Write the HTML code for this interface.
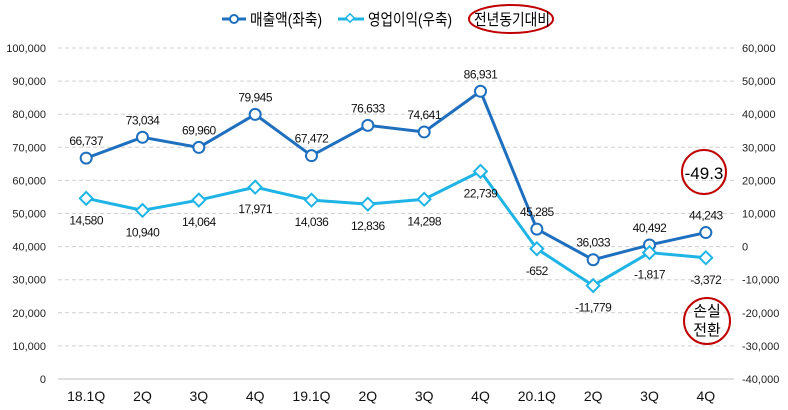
<!DOCTYPE html>
<html><head><meta charset="utf-8"><style>
body{margin:0;background:#fff;}
svg{display:block;font-family:"Liberation Sans","Noto Sans CJK KR",sans-serif;}
</style></head><body>
<svg id="chart" width="788" height="410" viewBox="0 0 788 410">
<g id="legend">
 <g>
  <line x1="222" y1="19" x2="246" y2="19" stroke="#1f6fbf" stroke-width="3"/>
  <circle cx="234" cy="19" r="4" fill="#fff" stroke="#1f6fbf" stroke-width="2"/>
  <text x="250" y="25" font-size="16" fill="#000" textLength="72" lengthAdjust="spacingAndGlyphs">매출액(좌축)</text>
 </g>
 <g>
  <line x1="338" y1="19" x2="364" y2="19" stroke="#1fb4e6" stroke-width="3"/>
  <rect x="347" y="15" width="6" height="6" transform="rotate(45 350 18)" fill="#fff" stroke="#1fb4e6" stroke-width="1.5"/>
  <text x="368" y="25" font-size="16" fill="#000" textLength="84" lengthAdjust="spacingAndGlyphs">영업이익(우축)</text>
 </g>
 <g>
  <ellipse cx="511" cy="19" rx="42" ry="14" fill="none" stroke="#c00000" stroke-width="2"/>
  <text x="474" y="25" font-size="16" fill="#000" textLength="76" lengthAdjust="spacingAndGlyphs">전년동기대비</text>
 </g>
</g>
<g id="grid"></g><g id="axes"></g><g id="series"></g>
<g>
 <circle cx="704" cy="172" r="22" fill="none" stroke="#c00000" stroke-width="2"/>
 <text x="704" y="179" font-size="17" text-anchor="middle">-49.3</text>
</g>
<g>
 <circle cx="707" cy="321" r="23" fill="none" stroke="#c00000" stroke-width="2"/>
 <text x="707" y="316" font-size="15" text-anchor="middle">손실</text>
 <text x="707" y="335" font-size="15" text-anchor="middle">전환</text>
</g>
</svg>
<script>
const categories=["18.1Q","2Q","3Q","4Q","19.1Q","2Q","3Q","4Q","20.1Q","2Q","3Q","4Q"];
const revenue=[66737,73034,69960,79945,67472,76633,74641,86931,45285,36033,40492,44243];
const profit=[14580,10940,14064,17971,14036,12836,14298,22739,-652,-11779,-1817,-3372];
const leftTicks=[0,10000,20000,30000,40000,50000,60000,70000,80000,90000,100000];
const rightTicks=[-40000,-30000,-20000,-10000,0,10000,20000,30000,40000,50000,60000];
const NS="http://www.w3.org/2000/svg";
const yTop=48,yBot=379,xLeft=58,xRight=734;
const yL=v=>yBot-(v/100000)*(yBot-yTop);
const yR=v=>yBot-((v+40000)/100000)*(yBot-yTop);
const step=(xRight-xLeft)/categories.length;
const xS=i=>xLeft+step*(i+0.5);
const fmt=v=>v.toLocaleString('en-US');
function mk(tag,attrs,parent,text){const e=document.createElementNS(NS,tag);for(const k in attrs)e.setAttribute(k,attrs[k]);if(text!=null)e.textContent=text;parent.appendChild(e);return e;}
const grid=document.getElementById('grid'),axes=document.getElementById('axes'),series=document.getElementById('series');
leftTicks.forEach((t)=>{
 const y=yL(t);
 if(t>0){const g=mk('line',{x1:xLeft,x2:xRight,y1:y,y2:y,stroke:'#d0d0d0','stroke-dasharray':'4,3'},grid);
 
 }
 const l=mk('text',{x:46,y:y+4,'font-size':11,'text-anchor':'end',fill:'#222'},axes,fmt(t));
 
 
});
rightTicks.forEach(t=>{
 const r=mk('text',{x:742,y:yR(t)+4,'font-size':11,fill:'#222'},axes,fmt(t));
 
 
});
const ax=mk('line',{x1:xLeft,x2:xRight,y1:yBot,y2:yBot,stroke:'#bfbfbf','stroke-width':1},axes);


categories.forEach((c,i)=>{
 const t=mk('text',{x:xS(i),y:401,'font-size':14,'text-anchor':'middle',fill:'#111'},axes,c);
 
 
});
const rp=mk('polyline',{points:revenue.map((v,i)=>xS(i)+','+yL(v)).join(' '),fill:'none',stroke:'#1f6fbf','stroke-width':3},series);


const pp=mk('polyline',{points:profit.map((v,i)=>xS(i)+','+yR(v)).join(' '),fill:'none',stroke:'#1fb4e6','stroke-width':3},series);


revenue.forEach((v,i)=>{
 const c=mk('circle',{cx:xS(i),cy:yL(v),r:5.5,fill:'#fff',stroke:'#1f6fbf','stroke-width':2},series);
 
 
 const t=mk('text',{x:xS(i),y:yL(v)-13,'font-size':12,'text-anchor':'middle',fill:'#111','letter-spacing':'-0.5'},series,fmt(v));
 
 
});
profit.forEach((v,i)=>{
 const x=xS(i),y=yR(v);
 const d=mk('rect',{x:x-4.5,y:y-4.5,width:9,height:9,transform:`rotate(45 ${x} ${y})`,fill:'#fff',stroke:'#1fb4e6','stroke-width':2},series);
 
 
 const t=mk('text',{x:x,y:y+26,'font-size':12,'text-anchor':'middle',fill:'#111','letter-spacing':'-0.5'},series,fmt(v));
 
 
});
</script>
</body></html>
